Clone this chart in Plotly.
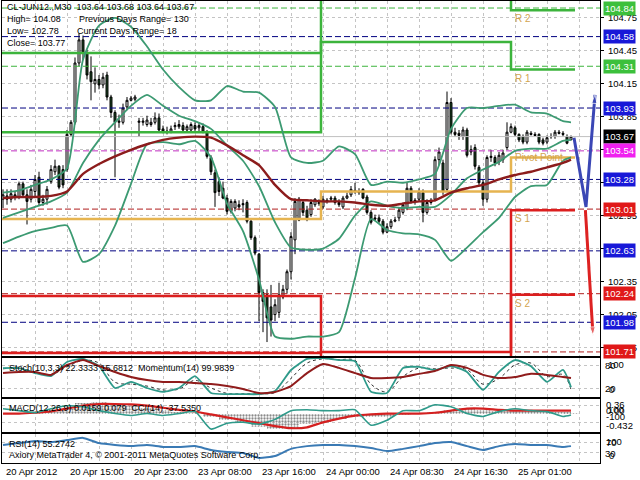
import plotly.graph_objects as go

# ---------------- DATA ----------------
bar_index = list(range(143))
open_prices = [103.10,103.13,103.10,103.14,103.12,103.24,103.14,103.10,103.17,103.30,
               103.07,103.10,103.26,103.35,103.40,103.37,103.37,103.69,103.80,104.34,
               104.55,104.43,104.26,104.15,104.19,104.14,104.23,104.03,103.89,103.80,
               103.80,103.94,104.00,104.01,103.80,103.80,103.78,103.78,103.80,103.84,
               103.74,103.72,103.71,103.76,103.76,103.77,103.73,103.73,103.77,103.75,
               103.76,103.71,103.48,103.34,103.26,103.20,103.11,102.99,103.02,103.05,
               103.06,103.07,102.90,102.75,102.60,102.25,102.23,102.12,102.05,102.07,
               102.21,102.28,102.44,102.73,102.91,103.07,103.00,102.96,103.05,103.06,
               103.03,103.08,103.10,103.11,103.07,103.03,103.11,103.14,103.17,103.17,
               103.19,103.12,102.98,102.93,102.93,102.90,102.80,102.85,102.90,102.93,
               102.98,103.02,103.20,103.08,103.10,103.16,102.98,103.07,103.10,103.46,
               103.43,103.19,103.98,103.71,103.70,103.67,103.73,103.55,103.57,103.39,
               103.25,103.10,103.48,103.48,103.44,103.46,103.57,103.71,103.75,103.69,
               103.67,103.62,103.70,103.69,103.69,103.64,103.62,103.67,103.67,103.71,
               103.70,103.67,103.64]
high_prices = [103.19,103.19,103.19,103.17,103.26,103.26,103.19,103.23,103.32,103.35,
               103.14,103.22,103.41,103.46,103.41,103.41,103.73,103.82,104.39,104.61,
               104.59,104.46,104.40,104.30,104.23,104.25,104.26,104.05,103.91,103.87,
               103.97,104.03,104.04,104.05,103.84,103.84,103.86,103.84,103.89,103.88,
               103.77,103.76,103.77,103.80,103.82,103.80,103.78,103.80,103.80,103.80,
               103.79,103.73,103.50,103.37,103.30,103.26,103.14,103.10,103.10,103.09,
               103.10,103.09,102.91,102.77,102.61,102.28,102.28,102.32,102.19,102.34,
               102.32,102.46,102.80,103.11,103.12,103.10,103.04,103.10,103.11,103.10,
               103.13,103.11,103.13,103.13,103.10,103.13,103.16,103.22,103.25,103.20,
               103.20,103.14,103.00,102.96,102.96,102.92,102.88,102.92,102.94,103.03,
               103.07,103.25,103.22,103.11,103.20,103.19,103.10,103.11,103.49,103.57,
               103.46,104.08,104.02,103.75,103.73,103.76,103.75,103.59,103.60,103.41,
               103.28,103.50,103.55,103.50,103.53,103.55,103.80,103.79,103.77,103.70,
               103.69,103.73,103.72,103.71,103.70,103.66,103.68,103.70,103.73,103.73,
               103.72,103.69,103.68]
low_prices = [103.02,103.05,103.07,103.09,103.10,103.12,102.87,103.07,103.12,103.04,
              103.04,103.05,103.24,103.32,103.19,103.20,103.35,103.67,103.78,104.31,
              104.37,104.19,104.00,104.07,104.10,104.11,104.00,103.84,103.30,103.75,
              103.78,103.91,103.99,103.99,103.67,103.77,103.76,103.76,103.78,103.71,
              103.70,103.69,103.70,103.73,103.74,103.71,103.71,103.71,103.72,103.72,
              103.70,103.47,103.32,103.03,103.13,103.10,102.96,102.97,102.99,103.00,
              102.98,102.88,102.73,102.59,101.99,101.89,101.80,101.85,101.99,102.02,
              102.19,102.24,102.37,102.60,102.90,102.95,102.90,102.94,103.03,103.04,
              103.01,103.06,103.08,103.05,103.03,103.01,103.10,103.12,103.15,103.14,
              103.10,102.96,102.87,102.90,102.88,102.78,102.79,102.83,102.89,102.90,
              102.96,103.00,103.06,103.05,103.08,102.89,102.96,103.05,103.08,103.41,
              103.14,103.17,103.69,103.67,103.64,103.64,103.48,103.50,103.37,103.22,
              103.04,103.07,103.44,103.40,103.41,103.43,103.55,103.70,103.67,103.62,
              103.60,103.60,103.68,103.67,103.60,103.59,103.60,103.65,103.65,103.69,
              103.67,103.60,103.64]
close_prices = [103.14,103.10,103.15,103.12,103.24,103.14,103.08,103.19,103.28,103.07,
                103.10,103.19,103.37,103.40,103.21,103.23,103.69,103.80,104.34,104.55,
                104.43,104.23,104.17,104.19,104.14,104.21,104.03,103.89,103.80,103.81,
                103.93,104.00,104.02,104.03,103.81,103.81,103.82,103.80,103.84,103.73,
                103.72,103.71,103.74,103.77,103.78,103.73,103.76,103.78,103.74,103.77,
                103.71,103.49,103.35,103.16,103.17,103.11,102.99,103.08,103.08,103.03,
                103.05,102.90,102.75,102.61,102.25,102.17,102.02,102.00,102.14,102.23,
                102.28,102.44,102.76,103.08,103.10,102.98,102.93,103.07,103.10,103.07,
                103.10,103.09,103.11,103.07,103.05,103.11,103.13,103.19,103.18,103.16,
                103.11,102.98,102.89,102.92,102.90,102.80,102.85,102.90,102.91,103.00,
                103.05,103.20,103.08,103.09,103.17,102.98,103.07,103.09,103.46,103.53,
                103.17,103.98,103.71,103.69,103.68,103.73,103.50,103.53,103.40,103.25,
                103.10,103.48,103.49,103.43,103.50,103.52,103.71,103.76,103.69,103.64,
                103.62,103.71,103.69,103.68,103.62,103.61,103.66,103.67,103.71,103.70,
                103.69,103.61,103.67]

# indicator samples (every 4 bars)
sample_index = [0,4,8,12,16,20,24,28,32,36,40,44,48,52,56,60,64,68,72,76,80,84,88,92,
                96,100,104,108,112,116,120,124,128,132,136,140,142]
bb_upper = [103.16,103.18,103.23,103.28,103.38,104.37,104.68,104.75,104.67,104.49,104.28,104.12,
            104.00,104.00,104.13,104.08,104.07,103.94,103.48,103.43,103.45,103.58,103.51,103.23,
            103.26,103.25,103.28,103.33,103.74,103.93,103.93,103.95,103.96,103.89,103.88,103.81,103.80]
bb_middle = [102.93,102.98,103.03,103.08,103.16,103.43,103.64,103.80,103.95,104.05,103.95,103.86,
             103.81,103.74,103.59,103.45,103.22,102.89,102.66,102.64,102.65,102.74,102.95,103.08,
             103.04,103.02,103.03,103.03,103.14,103.29,103.37,103.44,103.54,103.56,103.56,103.63,103.64]
bb_lower = [102.70,102.76,102.81,102.84,102.86,102.53,102.60,102.86,103.24,103.60,103.62,103.60,
            103.63,103.48,103.06,102.81,102.37,101.85,101.83,101.85,101.85,101.89,102.38,102.92,
            102.82,102.79,102.78,102.73,102.54,102.66,102.80,102.93,103.12,103.22,103.23,103.45,103.48]
ma_line = [103.11,103.12,103.12,103.13,103.17,103.33,103.42,103.49,103.55,103.60,103.64,103.66,
           103.67,103.66,103.59,103.50,103.41,103.23,103.10,103.09,103.08,103.08,103.07,103.05,
           103.04,103.06,103.08,103.09,103.16,103.20,103.23,103.28,103.32,103.35,103.39,103.43,103.46]

stoch_main = [72,72,59,51,88,96,77,20,36,20,10,20,51,7,4,4,4,12,67,96,98,93,90,10,7,72,75,67,77,62,15,62,93,77,36,67,22]
stoch_signal = [70,72,62,55,75,92,85,35,30,25,15,17,40,20,6,5,5,8,45,85,96,94,92,30,10,50,72,70,72,68,30,45,80,85,50,55,16]
momentum = [100.17,100.21,100.21,100.10,100.48,100.67,100.44,100.21,100.02,99.90,99.83,99.83,99.79,99.75,
            99.67,99.56,99.40,99.44,99.67,100.17,100.52,100.37,100.17,99.98,99.98,100.02,100.14,100.25,
            100.48,100.37,100.10,99.98,100.02,100.14,100.10,100.02,99.98]
macd_hist = [0.0,0.02,0.04,0.06,0.12,0.26,0.29,0.25,0.20,0.15,0.10,0.06,0.02,-0.06,-0.14,-0.20,-0.30,-0.36,
             -0.34,-0.25,-0.18,-0.12,-0.08,-0.07,-0.06,-0.03,0.0,0.04,0.10,0.14,0.10,0.08,0.08,0.07,0.06,0.04,0.02]
macd_signal = [0.01,0.01,0.03,0.06,0.13,0.20,0.24,0.24,0.23,0.20,0.15,0.10,0.06,-0.01,-0.08,-0.15,-0.22,-0.29,
               -0.34,-0.32,-0.20,-0.11,-0.04,-0.01,0.01,0.01,0.01,0.03,0.08,0.13,0.13,0.10,0.08,0.08,0.08,0.08,0.08]
cci = [125,75,25,125,200,175,75,0,-50,0,-50,0,50,-400,-250,-225,-275,-150,75,100,75,75,100,-300,-175,75,75,
       225,175,0,-75,50,125,75,50,-75,-37.5]
rsi = [59,66,74,70,77,85,66,59,55,59,52,52,55,41,34,30,12,19,45,55,59,59,55,48,37,45,55,66,70,55,41,55,63,59,59,52,55]

# horizontal level lines and their right-hand labels
level_values = [104.84, 104.58, 104.31, 103.93, 103.67, 103.54, 103.28, 103.01, 102.63, 102.24, 101.98, 101.71]
level_kinds = ["g", "b", "g", "b", "k", "m", "b", "r", "b", "r", "b", "r"]
axis_ticks = [101.75, 102.05, 102.35, 102.65, 102.95, 103.25, 103.55, 103.85, 104.15, 104.45, 104.75]
visible_tick_labels = [101.75, 102.05, 102.35, 102.95, 103.85, 104.15, 104.45, 104.75]

# pivot step levels for the three sessions
period_edges = [-0.25, 79.5, 127, 143]
r2_levels = [104.43, 105.40, 104.82]
r1_levels = [103.71, 104.53, 104.28]
pivot_levels = [102.92, 103.17, 103.48]
s1_levels = [102.22, 101.71, 103.00]
s2_levels = [101.70, 101.00, 102.23]

# projection lines
blue_x = [142.75, 145.75, 148.0]
blue_y = [103.66, 103.03, 104.05]
red_x = [145.6, 147.5]
red_y = [103.00, 101.86]

time_label_index = [0, 16, 32, 48, 64, 80, 96, 112, 128]
time_labels = ["20 Apr 2012", "20 Apr 15:00", "20 Apr 23:00", "23 Apr 08:00", "23 Apr 16:00",
               "24 Apr 00:00", "24 Apr 08:30", "24 Apr 16:30", "25 Apr 01:00"]

# ---------------- STYLE ----------------
W, H = 640, 480
FONT = "Liberation Sans, Arial, sans-serif"
line_col = {"g": "#3cb43c", "b": "#000080", "m": "#c030c0", "r": "#b01e1e", "k": "#c0c0c0"}
box_col = {"g": "#3cc03c", "b": "#1818d8", "m": "#f020f0", "r": "#e01818", "k": "#000000"}
GRID = "#c4c4c4"
XR = [-0.25, 149.25]
xd = [2 / W, 600 / W]


def ydom(top_px, bot_px):
    return [1 - bot_px / H, 1 - top_px / H]


fig = go.Figure()

# level lines
for v, k in zip(level_values, level_kinds):
    fig.add_trace(go.Scatter(x=XR, y=[v, v], mode="lines", xaxis="x", yaxis="y",
                             line=dict(color=line_col[k], width=1,
                                       dash="solid" if k == "k" else "6px,3px"),
                             hoverinfo="skip", showlegend=False))


def step(levels, color):
    fig.add_trace(go.Scatter(x=period_edges, y=levels + [levels[-1]], mode="lines",
                             line=dict(color=color, width=2.5, shape="hv"),
                             xaxis="x", yaxis="y", hoverinfo="skip", showlegend=False))


step(r2_levels, "#3cb43c")
step(r1_levels, "#3cb43c")
step(pivot_levels, "#e6b450")
step(s1_levels, "#dc1e1e")
step(s2_levels, "#dc1e1e")

# bollinger + ma
for arr in (bb_upper, bb_middle, bb_lower):
    fig.add_trace(go.Scatter(x=sample_index, y=arr, mode="lines", xaxis="x", yaxis="y",
                             line=dict(color="#3c9a72", width=1.8, shape="spline", smoothing=0.6),
                             hoverinfo="skip", showlegend=False))
fig.add_trace(go.Scatter(x=sample_index, y=ma_line, mode="lines", xaxis="x", yaxis="y",
                         line=dict(color="#8c1c1c", width=2.4, shape="spline", smoothing=0.6),
                         hoverinfo="skip", showlegend=False))

# candles
fig.add_trace(go.Candlestick(x=bar_index, open=open_prices, high=high_prices, low=low_prices,
                             close=close_prices, xaxis="x", yaxis="y",
                             increasing=dict(line=dict(color="black", width=1), fillcolor="white"),
                             decreasing=dict(line=dict(color="black", width=1), fillcolor="#1e4a24"),
                             whiskerwidth=0, showlegend=False, hoverinfo="skip"))

# projections
fig.add_trace(go.Scatter(x=blue_x, y=blue_y, mode="lines+markers", xaxis="x", yaxis="y",
                         line=dict(color="#3b47b5", width=3),
                         marker=dict(symbol="arrow", size=[0, 0, 9], angleref="previous", color="#3b47b5"),
                         hoverinfo="skip", showlegend=False))
fig.add_trace(go.Scatter(x=red_x, y=red_y, mode="lines+markers", xaxis="x", yaxis="y",
                         line=dict(color="#dd2222", width=3),
                         marker=dict(symbol="arrow", size=[0, 9], angleref="previous", color="#dd2222"),
                         hoverinfo="skip", showlegend=False))

# panel 2: stochastic + momentum
fig.add_trace(go.Scatter(x=sample_index, y=stoch_signal, mode="lines", xaxis="x2", yaxis="y2",
                         line=dict(color="#333333", width=1, dash="dot", shape="spline"),
                         hoverinfo="skip", showlegend=False))
fig.add_trace(go.Scatter(x=sample_index, y=stoch_main, mode="lines", xaxis="x2", yaxis="y2",
                         line=dict(color="#2e9a8a", width=1.8, shape="spline", smoothing=0.5),
                         hoverinfo="skip", showlegend=False))
fig.add_trace(go.Scatter(x=sample_index, y=momentum, mode="lines", xaxis="x2", yaxis="y3",
                         line=dict(color="#901c1c", width=2, shape="spline", smoothing=0.5),
                         hoverinfo="skip", showlegend=False))

# panel 3: macd + cci
fig.add_trace(go.Bar(x=sample_index, y=macd_hist, xaxis="x3", yaxis="y4", width=4,
                     marker=dict(color="#8a8a8a", line=dict(width=0),
                                 pattern=dict(shape=".", size=3, solidity=0.45)),
                     hoverinfo="skip", showlegend=False))
fig.add_trace(go.Scatter(x=sample_index, y=macd_signal, mode="lines", xaxis="x3", yaxis="y4",
                         line=dict(color="#d42020", width=2.2, shape="spline", smoothing=0.5),
                         hoverinfo="skip", showlegend=False))
fig.add_trace(go.Scatter(x=sample_index, y=cci, mode="lines", xaxis="x3", yaxis="y5",
                         line=dict(color="#2e9a8a", width=1.6, shape="spline", smoothing=0.5),
                         hoverinfo="skip", showlegend=False))

# panel 4: rsi
fig.add_trace(go.Scatter(x=sample_index, y=rsi, mode="lines", xaxis="x4", yaxis="y6",
                         line=dict(color="#3a7ab4", width=2, shape="spline", smoothing=0.5),
                         hoverinfo="skip", showlegend=False))

xcommon = dict(domain=xd, range=XR, showgrid=True, gridcolor=GRID, griddash="3px,3px", gridwidth=1,
               tickmode="linear", tick0=0, dtick=8, showticklabels=False, ticks="",
               showline=True, linecolor="black", linewidth=1, mirror=True, zeroline=False,
               fixedrange=True)
ycommon = dict(side="right", showline=True, linecolor="black", linewidth=1, mirror=True,
               zeroline=False, showgrid=True, gridcolor=GRID, griddash="3px,3px", fixedrange=True)

fig.update_layout(
    width=W, height=H, margin=dict(l=0, r=0, t=0, b=0), autosize=False,
    paper_bgcolor="white", plot_bgcolor="white", template="none",
    font=dict(family=FONT, size=9, color="black"),
    showlegend=False, bargap=0,
    xaxis=dict(xcommon, anchor="y", rangeslider=dict(visible=False)),
    xaxis2=dict(xcommon, anchor="y2", matches="x"),
    xaxis3=dict(xcommon, anchor="y4", matches="x"),
    xaxis4=dict(xcommon, anchor="y6", matches="x"),
    yaxis=dict(ycommon, domain=ydom(1, 356), range=[101.673, 104.904], anchor="x",
               tickmode="array", tickvals=axis_ticks, showticklabels=False,
               ticks="outside", ticklen=3, tickcolor="black"),
    yaxis2=dict(ycommon, domain=ydom(358, 397), range=[-3.5, 98.3], anchor="x2",
                tickmode="array", tickvals=[20, 80], showticklabels=False, ticks=""),
    yaxis3=dict(overlaying="y2", range=[99.25, 100.75], visible=False, fixedrange=True),
    yaxis4=dict(ycommon, domain=ydom(399, 432), range=[-0.432, 0.36], anchor="x3",
                tickmode="array", tickvals=[0.2, -0.2], showticklabels=False, ticks=""),
    yaxis5=dict(overlaying="y4", range=[-475, 375], visible=False, fixedrange=True),
    yaxis6=dict(ycommon, domain=ydom(434, 463), range=[-6.4, 99.1], anchor="x4",
                tickmode="array", tickvals=[30, 70], showticklabels=False, ticks=""),
)

ann = []
# price scale numbers (drawn first so the coloured boxes sit on top of them)
for t in visible_tick_labels:
    ann.append(dict(x=606 / W, xref="paper", y=t, yref="y", xanchor="left", yanchor="middle",
                    text=f"{t:.2f}", showarrow=False, font=dict(color="black", size=9.5, family=FONT)))

# right side coloured price labels
for v, k in zip(level_values, level_kinds):
    ann.append(dict(x=603 / W, xref="paper", y=v, yref="y", xanchor="left", yanchor="middle",
                    text=f"{v:.2f}", showarrow=False, bgcolor=box_col[k], borderpad=1,
                    font=dict(color="white", size=9.5, family=FONT)))

# pivot labels
piv_col = "#d2a450"
for txt, lv, anchor in [("R 2", r2_levels[2], "top"), ("R 1", r1_levels[2], "top"),
                        ("Pivot Point", pivot_levels[2], "middle"), ("S 1", s1_levels[2], "top"),
                        ("S 2", s2_levels[2], "top")]:
    ann.append(dict(x=127.6, xref="x", y=lv, yref="y", xanchor="left", yanchor=anchor,
                    yshift=-1 if anchor == "top" else 0, text=txt, showarrow=False,
                    font=dict(color=piv_col, size=10, family=FONT)))


def ptext(txt, xpx, ypx, size=9, color="black", anchor="left"):
    ann.append(dict(x=xpx / W, xref="paper", y=1 - ypx / H, yref="paper", xanchor=anchor,
                    yanchor="middle", text=txt, showarrow=False,
                    font=dict(size=size, color=color, family=FONT)))


# header
ptext("CL-JUN12.,M30  103.64 103.68 103.64 103.67", 5, 7)
ptext("High= 104.08", 5, 19)
ptext("Previous Days Range= 130", 77, 19)
ptext("Low= 102.78", 5, 31)
ptext("Current Days Range= 18", 75, 31)
ptext("Close= 103.77", 5, 43)

# sub-window captions
ptext("Stoch(10,3,3) 22.3333 15.6812  Momentum(14) 99.9839", 7, 368)
ptext("MACD(12,26,9) 0.0159 0.079  CCI(14) -37.5350", 7, 408)
ptext("RSI(14) 55.2742", 7, 444)
ptext("Axiory MetaTrader 4, © 2001-2011 MetaQuotes Software Corp.", 7, 455)

# sub-window scale labels (overlapping, as in the terminal)
ptext("80", 603, 365, 9.5)
ptext("100", 606, 364, 9.5)
ptext("20", 603, 388, 9.5)
ptext("0", 607, 389, 9.5)
ptext("0.36", 604, 404, 9.5)
ptext("0.00", 604, 410, 9.5)
ptext("100", 606, 409, 9.5)
ptext("-100", 604, 416, 9.5)
ptext("-0.432", 604, 425, 9.5)
ptext("100", 604, 441, 9.5)
ptext("70", 604, 442, 9.5)
ptext("30", 603, 453, 9.5)
ptext("0", 607, 455, 9.5)

# time labels
for idx, t in zip(time_label_index, time_labels):
    ann.append(dict(x=idx, xref="x4", y=1 - 471 / H, yref="paper", xanchor="left", yanchor="middle",
                    xshift=1, text=t, showarrow=False, font=dict(size=9.5, family=FONT)))

fig.update_layout(annotations=ann)

fig.write_html("out.html", config={"displayModeBar": False, "staticPlot": True},
               post_script="document.body.style.margin='0';")
